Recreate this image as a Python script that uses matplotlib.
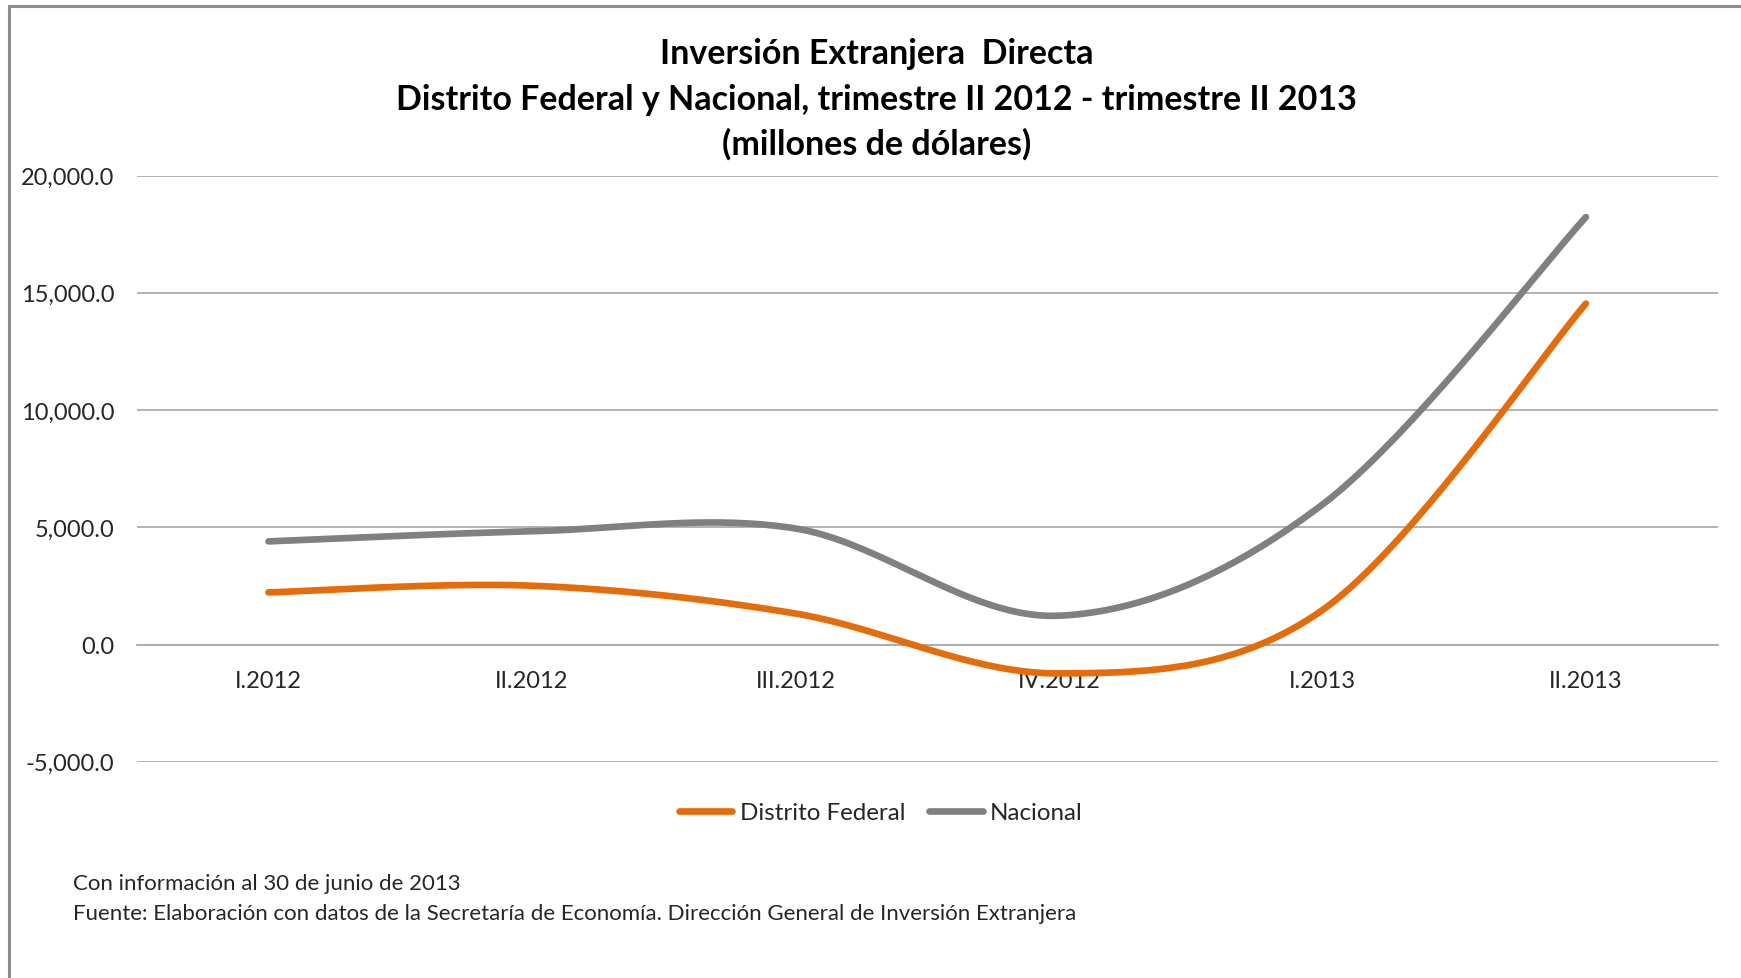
import matplotlib
matplotlib.use("Agg")
import matplotlib.pyplot as plt
import numpy as np

plt.rcParams['font.family'] = ['Lato', 'DejaVu Sans']

trimestres = ["I.2012", "II.2012", "III.2012", "IV.2012", "I.2013", "II.2013"]
distrito_federal = [2225, 2510, 1325, -1230, 1470, 14540]
nacional = [4400, 4830, 4950, 1230, 5970, 18230]

titulo = ["Inversión Extranjera  Directa",
          "Distrito Federal y Nacional, trimestre II 2012 - trimestre II 2013",
          "(millones de dólares)"]
notas = ["Con información al 30 de junio de 2013",
         "Fuente: Elaboración con datos de la Secretaría de Economía. Dirección General de Inversión Extranjera"]

naranja = "#E46C0A"
gris = "#808080"


def suavizar(valores, pasos=40):
    # curva tipo Excel (bezier con puntos de control catmull-rom)
    y = np.asarray(valores, dtype=float)
    x = np.arange(len(y), dtype=float)
    n = len(y)
    xs, ys = [], []
    t = np.linspace(0, 1, pasos)
    for i in range(n - 1):
        i0 = max(i - 1, 0)
        i3 = min(i + 2, n - 1)
        p0 = np.array([x[i], y[i]])
        p3 = np.array([x[i + 1], y[i + 1]])
        c1 = p0 + (np.array([x[i + 1], y[i + 1]]) - np.array([x[i0], y[i0]])) / 6
        c2 = p3 - (np.array([x[i3], y[i3]]) - np.array([x[i], y[i]])) / 6
        b = ((1 - t) ** 3)[:, None] * p0 + (3 * (1 - t) ** 2 * t)[:, None] * c1 \
            + (3 * (1 - t) * t ** 2)[:, None] * c2 + (t ** 3)[:, None] * p3
        xs.extend(b[:, 0])
        ys.extend(b[:, 1])
    return np.array(xs), np.array(ys)


fig = plt.figure(figsize=(17.41, 9.79), dpi=100)
ax = fig.add_axes([0.0785, 0.2208, 0.9081, 0.5989])

for serie, color, nombre in [(distrito_federal, naranja, "Distrito Federal"),
                             (nacional, gris, "Nacional")]:
    xs, ys = suavizar(serie)
    ax.plot(xs, ys, color=color, lw=4.8, solid_capstyle='round', label=nombre, zorder=3)

ax.set_xlim(-0.5, 5.5)
ax.set_ylim(-5000, 20000)
ax.set_yticks(np.arange(-5000, 20001, 5000))
ax.set_yticklabels([f"{v:,.1f}" for v in np.arange(-5000, 20001, 5000)])
ax.set_xticks(range(len(trimestres)))
ax.set_xticklabels(trimestres)
ax.grid(axis='y', color="#ADADAD", lw=1.3)
ax.set_axisbelow(True)
for s in ['top', 'right', 'left']:
    ax.spines[s].set_visible(False)
ax.spines['bottom'].set_position(('data', 0))
ax.spines['bottom'].set_color("#ADADAD")
ax.spines['bottom'].set_linewidth(1.3)
ax.tick_params(axis='x', length=0, pad=18.5, labelsize=17, labelcolor="#262626")
ax.tick_params(axis='y', length=0, pad=16, labelsize=17, labelcolor="#262626")

ys_titulo = [0.9449, 0.8979, 0.8530]
for texto, yy in zip(titulo, ys_titulo):
    fig.text(0.5035, yy, texto, ha='center', va='center', fontsize=24.5,
             fontweight='bold', color="#000000")

fig.legend(loc='center', bbox_to_anchor=(0.506, 0.1690), ncol=2, frameon=False,
           fontsize=17.4, handlelength=2.2, handletextpad=0.3, columnspacing=1.0,
           labelcolor="#262626")

fig.text(0.042, 1 - 884 / 979, notas[0], ha='left', va='center', fontsize=16, color="#262626")
fig.text(0.042, 1 - 914 / 979, notas[1], ha='left', va='center', fontsize=16, color="#262626")

# marco del grafico (recortado a la derecha y abajo)
fig.add_artist(plt.Line2D([0.005, 1.0], [0.993, 0.993], color="#8C8C8C", lw=2.2,
                          transform=fig.transFigure))
fig.add_artist(plt.Line2D([0.005, 0.005], [0.0, 0.993], color="#8C8C8C", lw=2.2,
                          transform=fig.transFigure))

fig.savefig("out.png", dpi=100)
